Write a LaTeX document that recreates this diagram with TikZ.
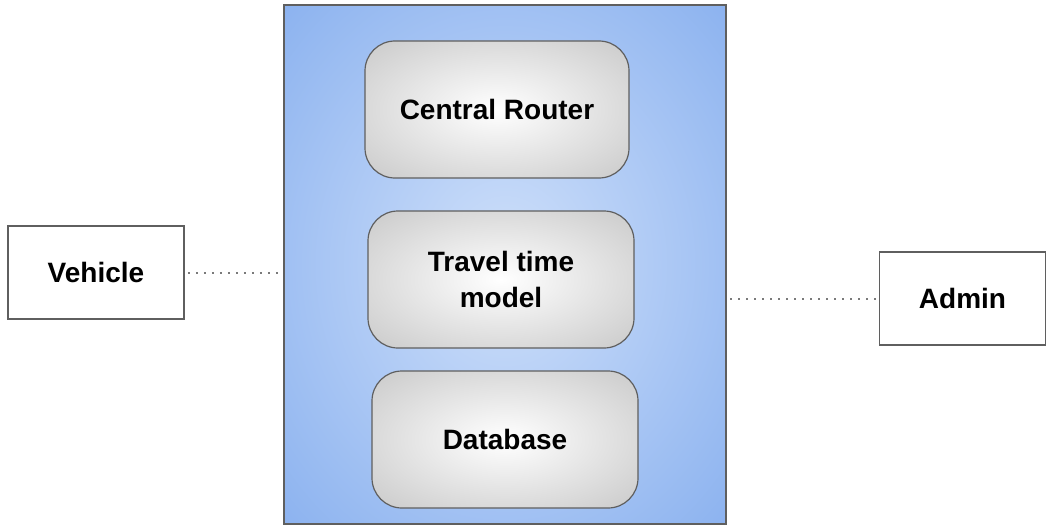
\documentclass[tikz,border=0pt]{standalone}
\usepackage{fontspec}
\setmainfont{Liberation Sans}
\usetikzlibrary{calc}
\definecolor{blueedge}{HTML}{6B9CEA}
\definecolor{bluecore}{HTML}{CFE0FA}
\definecolor{greyedge}{HTML}{ABABAB}
\definecolor{frame}{HTML}{5F5F5F}
\definecolor{dots}{HTML}{7A7A7A}
\pgfdeclareradialshading{blueglow}{\pgfpoint{0bp}{0bp}}{%
  color(0bp)=(bluecore); color(53bp)=(blueedge); color(100bp)=(blueedge)}
\pgfdeclareradialshading{greyglow}{\pgfpoint{0bp}{0bp}}{%
  color(0bp)=(white); color(56bp)=(greyedge); color(100bp)=(greyedge)}
\tikzset{
  label text/.style={font=\fontsize{28}{36}\selectfont\bfseries, text=black, align=center},
  actor/.style={label text, draw=frame, line width=1.6pt, fill=white, inner sep=0pt},
  module/.style={label text, draw=frame, line width=1.2pt, rounded corners=30pt,
    shading=greyglow, inner sep=0pt, minimum width=266pt, minimum height=137pt},
  server/.style={draw=frame, line width=1.4pt, shading=blueglow, inner sep=0pt},
  link/.style={draw=dots, line width=2pt, dash pattern=on 2pt off 6pt}
}
\begin{document}
\begin{tikzpicture}[x=1pt,y=-1pt]
  \useasboundingbox (0,0) rectangle (1047,527);
  % server block with its three modules
  \node[server, minimum width=442pt, minimum height=519pt] (srv) at (505,264.5) {};
  \node[module, minimum width=264pt] (router) at (497,109.5) {Central Router};
  \node[module] (travel) at (501,279.5) {Travel time\\model};
  \node[module] (db) at (505,439.5) {Database};
  % external actors
  \node[actor, minimum width=176pt, minimum height=93pt] (vehicle) at (96,272.5) {Vehicle};
  \node[actor, minimum width=166pt, minimum height=93pt] (admin) at (962.5,298.5) {Admin};
  % connections
  \draw[link] ($(vehicle.east)+(3,0)$) -- (vehicle.east -| srv.west);
  \draw[link] ($(admin.west)+(-3,0)$) -- (admin.west -| srv.east);
\end{tikzpicture}
\end{document}
